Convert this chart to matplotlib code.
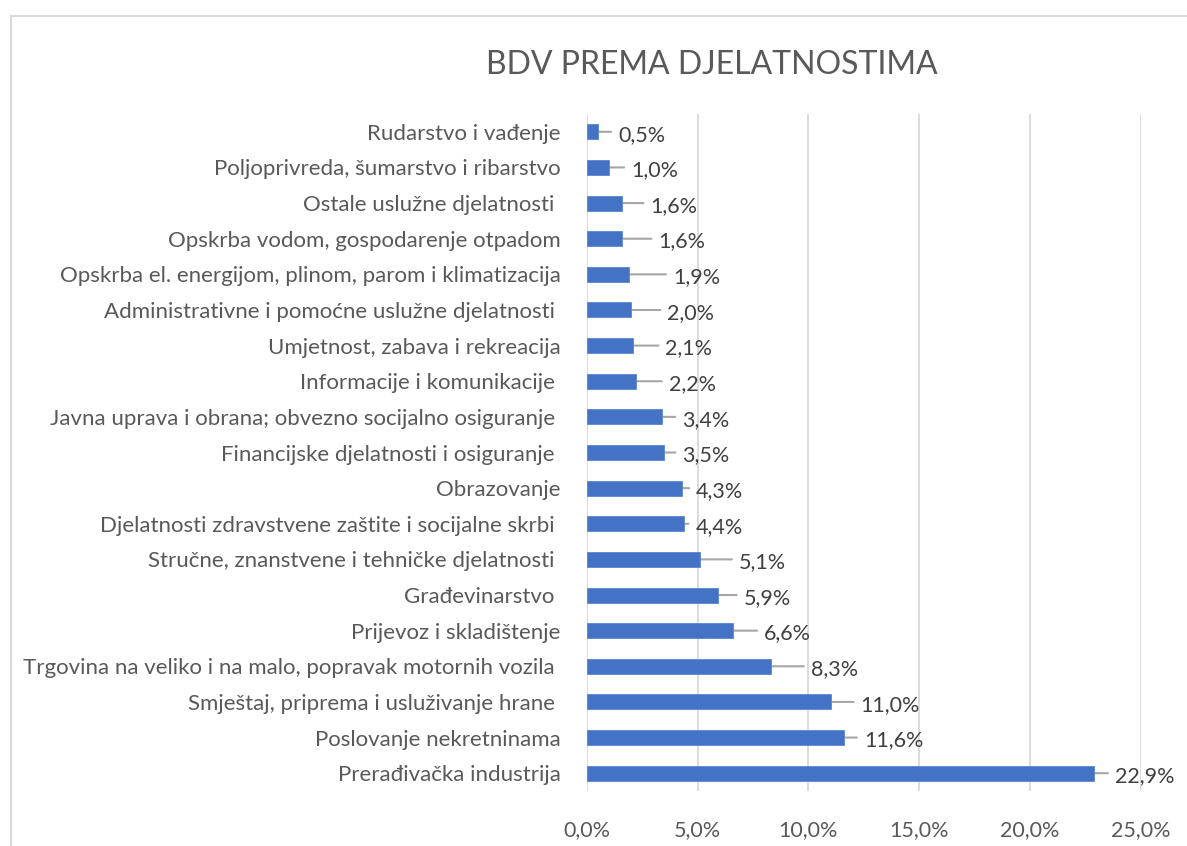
import matplotlib
matplotlib.use("Agg")
import matplotlib.pyplot as plt
from matplotlib.lines import Line2D
from matplotlib.ticker import FuncFormatter, MultipleLocator

categories = [
    "Rudarstvo i vađenje",
    "Poljoprivreda, šumarstvo i ribarstvo",
    "Ostale uslužne djelatnosti ",
    "Opskrba vodom, gospodarenje otpadom",
    "Opskrba el. energijom, plinom, parom i klimatizacija",
    "Administrativne i pomoćne uslužne djelatnosti ",
    "Umjetnost, zabava i rekreacija",
    "Informacije i komunikacije ",
    "Javna uprava i obrana; obvezno socijalno osiguranje ",
    "Financijske djelatnosti i osiguranje ",
    "Obrazovanje",
    "Djelatnosti zdravstvene zaštite i socijalne skrbi ",
    "Stručne, znanstvene i tehničke djelatnosti ",
    "Građevinarstvo ",
    "Prijevoz i skladištenje",
    "Trgovina na veliko i na malo, popravak motornih vozila ",
    "Smještaj, priprema i usluživanje hrane ",
    "Poslovanje nekretninama",
    "Prerađivačka industrija",
]
values = [0.5, 1.0, 1.6, 1.6, 1.9, 2.0, 2.1, 2.2, 3.4, 3.5, 4.3, 4.4, 5.1, 5.9, 6.6, 8.3, 11.0, 11.6, 22.9]
title = "BDV PREMA DJELATNOSTIMA"

# label placement offsets (px, layout only)
label_offsets = [20, 22, 28, 36, 44, 36, 32, 33, 20, 18, 14, 11, 39, 26, 31, 40, 30, 20, 21]

W, H = 1187, 846
fig = plt.figure(figsize=(W / 100, H / 100), dpi=100)
plt.rcParams['font.family'] = ['Lato', 'DejaVu Sans']
text_col = "#595959"

ax = fig.add_axes([587 / W, 1 - 791 / H, (1140.5 - 587) / W, (791 - 114) / H])
n = len(categories)
ypos = list(range(n))
ax.barh(ypos, values, height=0.42, color="#4472C4", edgecolor="#5B86D0", linewidth=0.6, zorder=3)
ax.set_ylim(n - 0.5, -0.5)
ax.set_xlim(0, 25)
ax.xaxis.set_major_locator(MultipleLocator(5))
ax.xaxis.set_major_formatter(FuncFormatter(lambda v, p: f"{v:.1f}%".replace(".", ",")))
ax.set_yticks(ypos)
ax.set_yticklabels(categories)
ax.tick_params(axis="y", length=0, pad=19, labelsize=16, labelcolor=text_col)
ax.tick_params(axis="x", length=0, pad=21, labelsize=15.5, labelcolor=text_col)
ax.grid(axis="x", color="#D9D9D9", linewidth=1.3, zorder=0)
for s in ax.spines.values():
    s.set_visible(False)

px = (1140.5 - 587) / 25.0  # px per unit
for y, v, off in zip(ypos, values, label_offsets):
    ax.annotate("", xy=(v, y), xytext=(v + (off - 7) / px, y),
                arrowprops=dict(arrowstyle="-", color="#A6A6A6", lw=1.5, shrinkA=0, shrinkB=0),
                zorder=2)
    ax.text(v + off / px, y + 0.08, f"{v:.1f}%".replace(".", ","), va="center", ha="left",
            fontsize=15.5, color="#404040", zorder=4)

fig.text(712 / W, 1 - 65 / H, title, ha="center", va="center", fontsize=23, color=text_col)

# chart area border
border = dict(color="#D9D9D9", lw=1.5, transform=fig.transFigure)
fig.add_artist(Line2D([10.5 / W, 10.5 / W], [0, 1 - 16 / H], **border))
fig.add_artist(Line2D([10.5 / W, 1], [1 - 16 / H, 1 - 16 / H], **border))

fig.savefig("out.png", dpi=100, facecolor="white")
